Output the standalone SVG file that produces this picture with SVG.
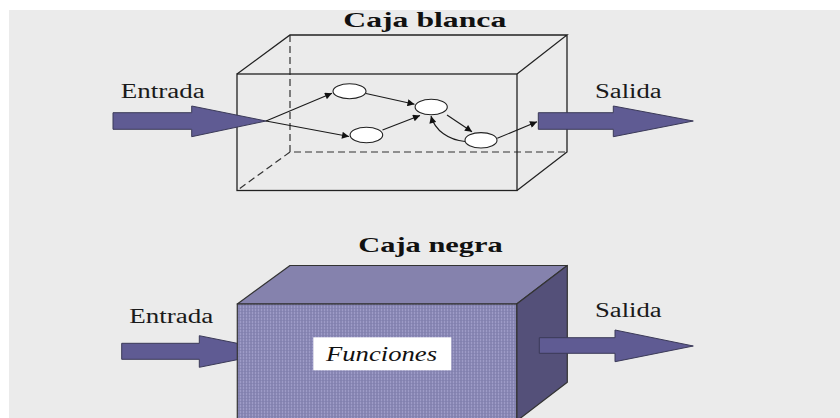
<svg xmlns="http://www.w3.org/2000/svg" width="840" height="418" viewBox="0 0 840 418">
  <style>
    .edge { fill: none; stroke: #222; stroke-width: 1.3; }
    .hidden { fill: none; stroke: #333; stroke-width: 1.2; stroke-dasharray: 7 4; }
    .flow { fill: #5f5b93; stroke: #3b3a58; stroke-width: 1; }
    .node { fill: #fff; stroke: #222; stroke-width: 1.1; }
    .link { fill: none; stroke: #1a1a1a; stroke-width: 1.1; marker-end: url(#ah); }
  </style>
  <defs>
    <marker id="ah" viewBox="0 0 10 10" refX="10" refY="5" markerWidth="9" markerHeight="7" markerUnits="userSpaceOnUse" orient="auto">
      <path d="M0,0 L10,5 L0,10 z" fill="#111"/>
    </marker>
    <!-- fine woven texture of the opaque box front -->
    <pattern id="weave" width="3" height="3" patternUnits="userSpaceOnUse">
      <rect width="3" height="3" fill="#8886b3"/>
      <rect x="0" y="0" width="1" height="3" fill="#9d9bc7"/>
      <rect x="0" y="2" width="3" height="1" fill="#7f7dab" opacity="0.6"/>
    </pattern>
  </defs>

  <!-- page -->
  <rect width="840" height="418" fill="#fff"/>
  <rect x="9" y="10" width="831" height="408" fill="#ebebeb"/>

  <!-- transparent box -->
  <g id="caja-blanca">
    <text x="343.3" y="26.7" font-family="Liberation Serif, Times New Roman, serif" font-size="21" font-weight="bold" fill="#111" textLength="163" lengthAdjust="spacingAndGlyphs">Caja blanca</text>
    <path class="hidden" d="M290,35 V152 H567 M290,152 L237,190.5"/>
    <rect class="edge" x="237" y="74" width="280" height="116.5"/>
    <path class="edge" d="M237,74 L290,35 H567 L517,74 M567,35 V152 L517,190.5"/>
  </g>

  <g id="entrada-blanca">
    <text x="120.7" y="98" font-family="Liberation Serif, Times New Roman, serif" font-size="20" fill="#1a1a1a" textLength="84" lengthAdjust="spacingAndGlyphs">Entrada</text>
    <polygon class="flow" points="113,112.7 191.7,112.7 191.7,106 266,121 191.7,136.7 191.7,129.3 113,129.3"/>
  </g>

  <g id="salida-blanca">
    <text x="595" y="98" font-family="Liberation Serif, Times New Roman, serif" font-size="20" fill="#1a1a1a" textLength="66.7" lengthAdjust="spacingAndGlyphs">Salida</text>
    <polygon class="flow" points="538.3,112.7 613.3,112.7 613.3,106 693.3,121 613.3,136.7 613.3,129.3 538.3,129.3"/>
  </g>

  <!-- internal flow -->
  <g id="connectors">
    <line class="link" x1="266" y1="121" x2="332" y2="93.3"/>
    <line class="link" x1="266" y1="121" x2="349" y2="136.5"/>
    <line class="link" x1="366" y1="93.5" x2="414.5" y2="104.3"/>
    <line class="link" x1="382.5" y1="130" x2="420" y2="115.5"/>
    <line class="link" x1="447" y1="115" x2="472" y2="131.8"/>
    <path class="link" d="M465,141.5 C449,140 435,131 431,116"/>
    <line class="link" x1="497.3" y1="138.3" x2="537" y2="121.7"/>
  </g>

  <g id="nodo-1"><ellipse class="node" cx="349.5" cy="91.3" rx="16.5" ry="7.5"/></g>
  <g id="nodo-2"><ellipse class="node" cx="366.4" cy="135" rx="16.3" ry="7.7"/></g>
  <g id="nodo-3"><ellipse class="node" cx="431.2" cy="107" rx="16.1" ry="7.7"/></g>
  <g id="nodo-4"><ellipse class="node" cx="481" cy="140.3" rx="16" ry="7.7"/></g>

  <!-- opaque box -->
  <g id="entrada-negra">
    <text x="129.3" y="322.7" font-family="Liberation Serif, Times New Roman, serif" font-size="20" fill="#1a1a1a" textLength="84" lengthAdjust="spacingAndGlyphs">Entrada</text>
    <polygon class="flow" points="121.7,343.3 199.3,343.3 199.3,335.7 278,351.5 199.3,367.3 199.3,359.3 121.7,359.3"/>
  </g>

  <g id="caja-negra">
    <text x="358.3" y="251.7" font-family="Liberation Serif, Times New Roman, serif" font-size="21" font-weight="bold" fill="#111" textLength="144.4" lengthAdjust="spacingAndGlyphs">Caja negra</text>
    <polygon points="237.3,304 290,265.5 567.3,265.5 516.7,304" fill="#8582ad" stroke="#333" stroke-width="1.2" stroke-linejoin="round"/>
    <polygon points="516.7,304 567.3,265.5 567.3,382.3 516.7,421" fill="#545079" stroke="#333" stroke-width="1.2" stroke-linejoin="round"/>
    <rect x="237.3" y="304" width="279.4" height="118" fill="url(#weave)" stroke="#333" stroke-width="1.2"/>
    <rect x="313.3" y="337.3" width="138" height="33" fill="#fff"/>
    <text x="326" y="361.3" font-family="Liberation Serif, Times New Roman, serif" font-size="20" font-style="italic" fill="#111" textLength="111" lengthAdjust="spacingAndGlyphs">Funciones</text>
  </g>

  <g id="salida-negra">
    <text x="595" y="317.3" font-family="Liberation Serif, Times New Roman, serif" font-size="20" fill="#1a1a1a" textLength="66.7" lengthAdjust="spacingAndGlyphs">Salida</text>
    <polygon class="flow" points="539.3,337.7 615,337.7 615,330 693.3,346 615,361.7 615,353.3 539.3,353.3"/>
  </g>
</svg>
